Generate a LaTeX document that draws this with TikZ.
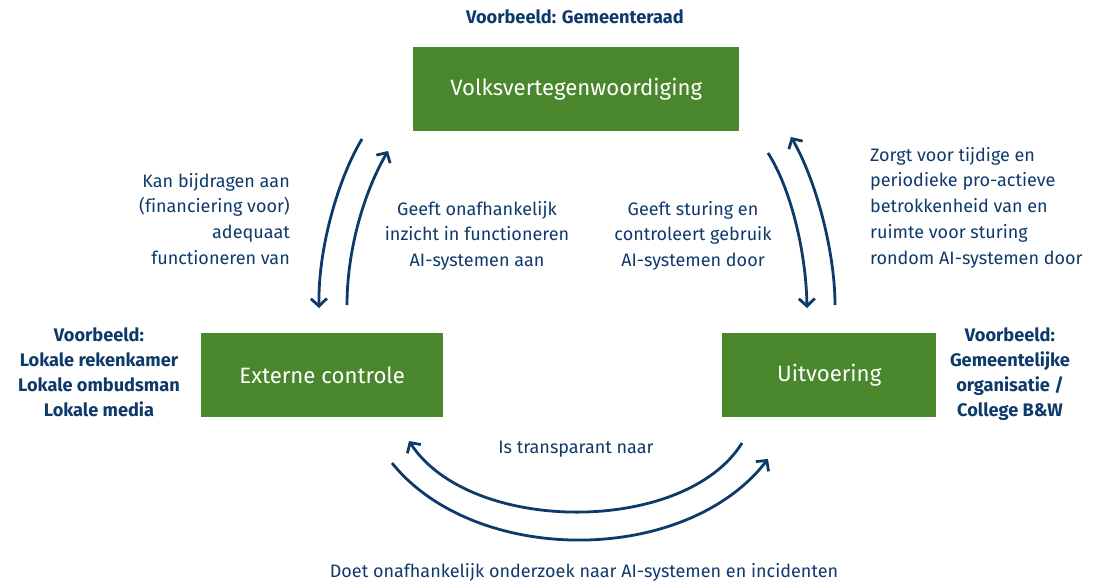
\documentclass[tikz,border=0pt]{standalone}
\usepackage{fontspec}
\setmainfont{Fira Sans}
\usetikzlibrary{arrows.meta}
\definecolor{boxgreen}{HTML}{4A862B}
\definecolor{navy}{HTML}{0E3A6B}
\tikzset{
  box/.style={fill=boxgreen, inner sep=0pt, anchor=north west},
  boxtext/.style={text=white, font=\fontsize{22.2}{26}\selectfont\addfontfeatures{Ligatures=NoCommon}},
  lbl/.style={text=navy, font=\fontsize{18}{25.7}\selectfont\addfontfeatures{Ligatures=NoCommon}, inner sep=0pt},
  blbl/.style={lbl, font=\fontsize{18.2}{25.3}\selectfont\bfseries},
  arr/.style={draw=navy, line width=2.8pt, -{Straight Barb[length=7.5pt,width=16pt,line width=2.8pt]}}
}
\begin{document}
\begin{tikzpicture}[x=1pt,y=-1pt]
\useasboundingbox (0,0) rectangle (1095,582);
% boxes
\node[box, minimum width=326pt, minimum height=84pt] (volk) at (413,47) {};
\node[boxtext] at (volk.center) (volkt) {Volksvertegenwoordiging};
\node[box, minimum width=242pt, minimum height=84pt] (ext) at (201,333) {};
\node[boxtext] at (ext.center) (extt) {Externe controle};
\node[box, minimum width=214pt, minimum height=84pt] (uit) at (722,333) {};
\node[boxtext] at (uit.center) (uitt) {Uitvoering};
% example labels
\node[blbl] (vb1) at (575,17) {Voorbeeld: Gemeenteraad};
\node[blbl, align=center, anchor=north] (vb2) at (99,327) {Voorbeeld:\\Lokale rekenkamer\\Lokale ombudsman\\Lokale media};
\node[blbl, align=center, anchor=north] (vb3) at (1010,327) {Voorbeeld:\\Gemeentelijke\\organisatie /\\College B\&W};
% edge labels
\node[lbl, align=right, anchor=north east] (l1) at (290,173) {Kan bijdragen aan\\(financiering voor)\\adequaat\\functioneren van};
\node[lbl, align=center, anchor=north] (l2) at (477,201) {Geeft onafhankelijk\\inzicht in functioneren\\AI-systemen aan};
\node[lbl, align=center, anchor=north] (l3) at (693,201) {Geeft sturing en\\controleert gebruik\\AI-systemen door};
\node[lbl, align=left, anchor=north west] (l4) at (870,147) {Zorgt voor tijdige en\\periodieke pro-actieve\\betrokkenheid van en\\ruimte voor sturing\\rondom AI-systemen door};
\node[lbl] (l5) at (576,449) {Is transparant naar};
\node[lbl] (l6) at (584,572) {Doet onafhankelijk onderzoek naar AI-systemen en incidenten};
% arrow end points
\coordinate (a1s) at (362,139); \coordinate (a1e) at (319,308);
\coordinate (a2s) at (347,305); \coordinate (a2e) at (388,151);
\coordinate (a3s) at (768,153); \coordinate (a3e) at (807,308);
\coordinate (a4s) at (835,305); \coordinate (a4e) at (791,137);
\coordinate (a5s) at (742,443); \coordinate (a5e) at (409,441);
\coordinate (a6s) at (392,463); \coordinate (a6e) at (768,459);
% arrows
\draw[arr] (a1s) .. controls (340,175) and (318,245) .. (a1e);
\draw[arr] (a2s) .. controls (347,250) and (364,192) .. (a2e);
\draw[arr] (a3s) .. controls (790,187) and (806,250) .. (a3e);
\draw[arr] (a4s) .. controls (835,250) and (815,178) .. (a4e);
\draw[arr] (a5s) .. controls (685,535) and (470,535) .. (a5e);
\draw[arr] (a6s) .. controls (475,566) and (685,566) .. (a6e);
\end{tikzpicture}
\end{document}
